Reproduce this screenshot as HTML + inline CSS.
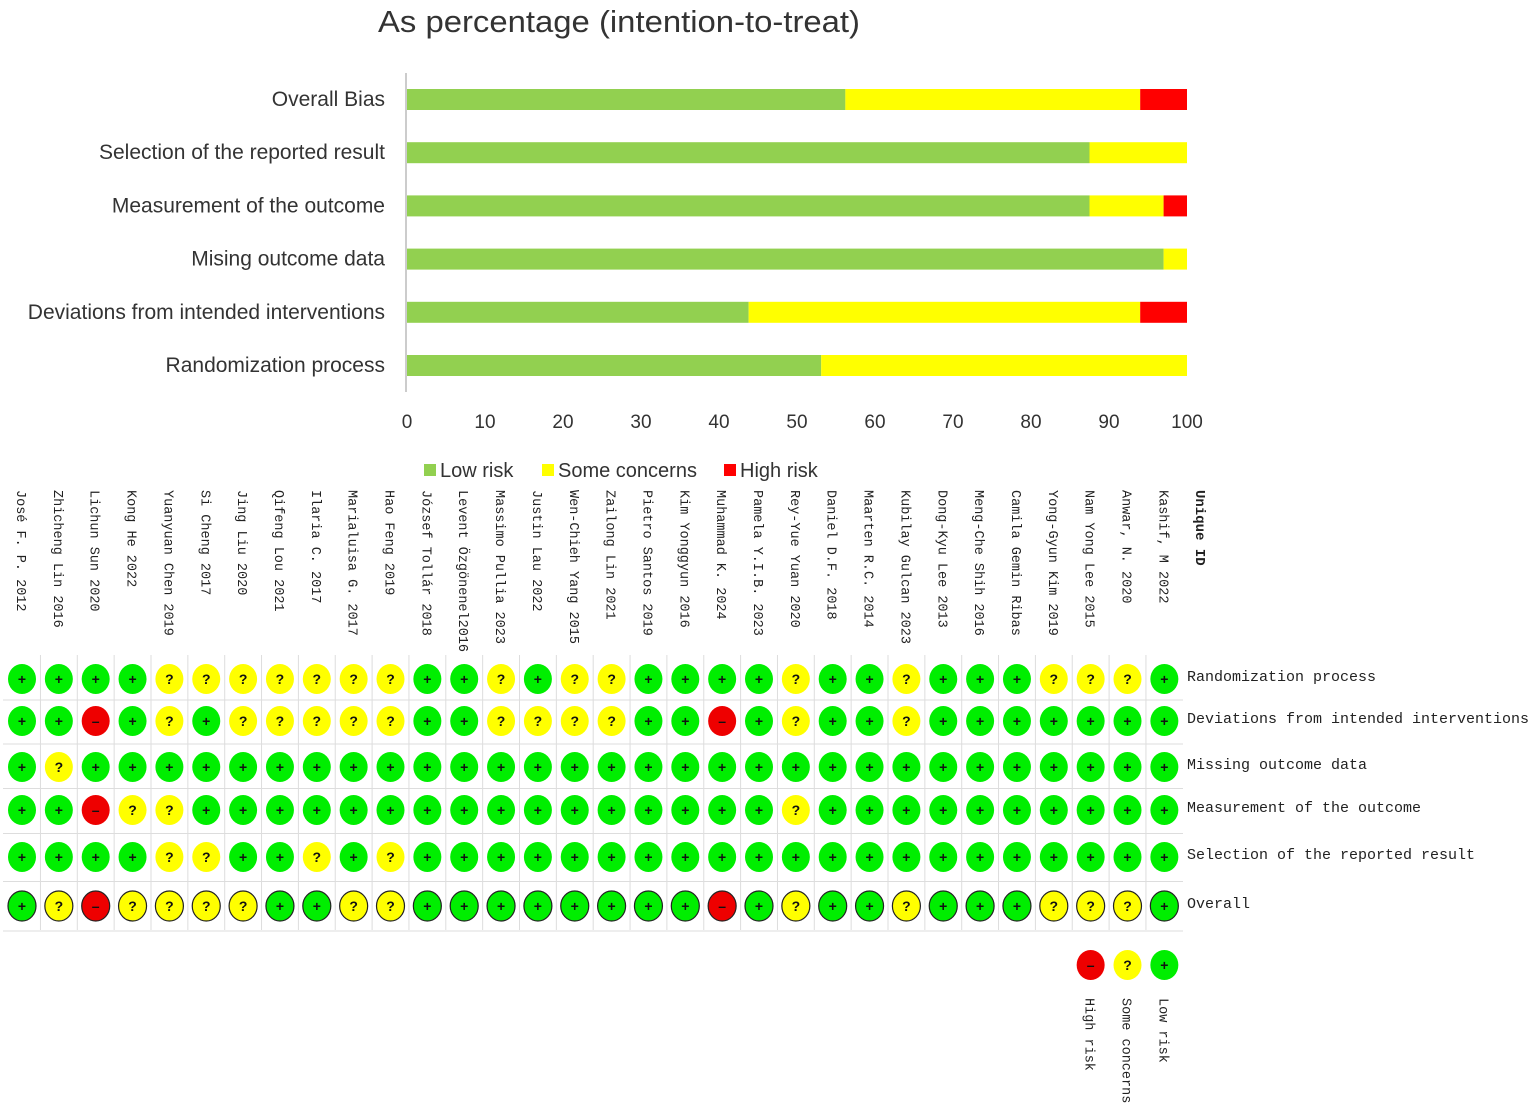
<!DOCTYPE html>
<html><head><meta charset="utf-8"><style>
body{margin:0;background:#fff;width:1535px;height:1109px;overflow:hidden}
svg{display:block}
</style></head><body>
<svg id="chart" width="1535" height="1109" xmlns="http://www.w3.org/2000/svg">
<text x="619" y="32" text-anchor="middle" font-family="Liberation Sans, sans-serif" font-size="31" fill="#333" textLength="482" lengthAdjust="spacingAndGlyphs">As percentage (intention-to-treat)</text>
<g id="bars"></g><g id="tl"></g>
</svg>
<script>
const domains = ["Overall Bias","Selection of the reported result","Measurement of the outcome","Mising outcome data","Deviations from intended interventions","Randomization process"];
const lowPct = [56.2, 87.5, 87.5, 97, 43.8, 53.1];
const somePct = [37.8, 12.5, 9.5, 3, 50.2, 46.9];
const highPct = [6, 0, 3, 0, 6, 0];
const xTicks = [0,10,20,30,40,50,60,70,80,90,100];
const studies = ["José F. P. 2012","Zhicheng Lin 2016","Lichun Sun 2020","Kong He 2022","Yuanyuan Chen 2019","Si Cheng 2017","Jing Liu 2020","Qifeng Lou 2021","Ilaria C. 2017","Marialuisa G. 2017","Hao Feng 2019","József Tollár 2018","Levent Özgönenel2016","Massimo Pullia 2023","Justin Lau 2022","Wen-Chieh Yang 2015","Zailong Lin 2021","Pietro Santos 2019","Kim Yonggyun 2016","Muhammad K. 2024","Pamela Y.I.B. 2023","Rey-Yue Yuan 2020","Daniel D.F. 2018","Maarten R.C. 2014","Kubilay Gulcan 2023","Dong-Kyu Lee 2013","Meng-Che Shih 2016","Camila Gemin Ribas","Yong-Gyun Kim 2019","Nam Yong Lee 2015","Anwar, N. 2020","Kashif, M 2022"];
const tlDomains = ["Randomization process","Deviations from intended interventions","Missing outcome data","Measurement of the outcome","Selection of the reported result","Overall"];
const judgements = [
"++++"+"???????"+"++"+"?"+"+"+"??"+"++++"+"?"+"++"+"?"+"+++"+"???"+"+",
"++-+"+"?"+"+"+"?????"+"++"+"????"+"++"+"-"+"+"+"?"+"++"+"?"+"+++++++",
"+?"+"++++++++++++++++++++++++++++++",
"++-??"+"++++++++++++++++"+"?"+"++++++++++",
"++++??++?+?"+"+++++++++++++++++++++",
"+?-????"+"++"+"??"+"++++++++"+"-"+"+"+"?"+"++"+"?"+"+++"+"???"+"+"
];
const NS="http://www.w3.org/2000/svg";
function mk(p,t,a){const e=document.createElementNS(NS,t);for(const k in a)e.setAttribute(k,a[k]);p.appendChild(e);return e;}
const bars=document.getElementById('bars');
const x0=407,x1=1187;const xs=v=>x0+(x1-x0)*v/100;
const ys=i=>99+i*53.2;
let ax=mk(bars,'line',{x1:406,y1:73,x2:406,y2:392,stroke:'#ccc','stroke-width':2});


const cols=['#92d050','#ffff00','#ff0000'];
domains.forEach((d,i)=>{
 const y=ys(i);
 let t=mk(bars,'text',{x:385,y:y+7,'text-anchor':'end','font-family':'Liberation Sans, sans-serif','font-size':21,fill:'#333'});t.textContent=d;
 
 
 let acc=0;[lowPct[i],somePct[i],highPct[i]].forEach((v,k)=>{
  if(v>0){let r=mk(bars,'rect',{x:xs(acc),y:y-10,width:xs(acc+v)-xs(acc),height:21,fill:cols[k]});
  
  }
  acc+=v;});
});
xTicks.forEach(v=>{let t=mk(bars,'text',{x:xs(v),y:428,'text-anchor':'middle','font-family':'Liberation Sans, sans-serif','font-size':19,fill:'#333'});t.textContent=v;
 
 });
[['Low risk',424,cols[0]],['Some concerns',542,cols[1]],['High risk',724,cols[2]]].forEach(([l,x,c])=>{
 let g=mk(bars,'g',{});
 mk(g,'rect',{x:x,y:464,width:12,height:12,fill:c});
 let t=mk(g,'text',{x:x+16,y:477,'font-family':'Liberation Sans, sans-serif','font-size':20,fill:'#333'});t.textContent=l;});
const tl=document.getElementById('tl');
const cx=j=>22+j*36.85;
const rowY=[679,721,767,810,857,906];
const sym={'+':['#00ee00','+'],'?':['#ffff00','?'],'-':['#ee0000','–']};
rowY.forEach((y,i)=>{let l=mk(tl,'line',{x1:3,x2:1183,y1:y+(i<5?(rowY[i+1]-y)/2:25),y2:y+(i<5?(rowY[i+1]-y)/2:25),stroke:'#ddd','stroke-width':1});
 });
studies.forEach((s,j)=>{
 if(j>0){let l=mk(tl,'line',{x1:cx(j)-18.4,x2:cx(j)-18.4,y1:655,y2:930,stroke:'#ddd','stroke-width':1});
 }
 let t=mk(tl,'text',{transform:`translate(${cx(j)-5},490) rotate(90)`,'font-family':'Liberation Mono, monospace','font-size':13.5,fill:'#222'});t.textContent=s;
 
});
let uid=mk(tl,'text',{transform:`translate(${cx(32)-5},490) rotate(90)`,'font-family':'Liberation Mono, monospace','font-size':14,'font-weight':'bold',fill:'#222'});uid.textContent='Unique ID';

judgements.forEach((row,i)=>{
 studies.forEach((s,j)=>{
  const c=row[j]||'+';const [f,g]=sym[c];
  let gg=mk(tl,'g',{});
  mk(gg,'ellipse',{cx:cx(j),cy:rowY[i],rx:14,ry:15,fill:f,stroke:i==5?'#222':'none','stroke-width':1.2});
  let t=mk(gg,'text',{x:cx(j),y:rowY[i]+5,'text-anchor':'middle','font-family':'Liberation Sans, sans-serif','font-size':14,'font-weight':'bold',fill:'#111'});t.textContent=g;
 });
 let t=mk(tl,'text',{x:1187,y:rowY[i]+2,'font-family':'Liberation Mono, monospace','font-size':15,fill:'#222'});t.textContent=tlDomains[i];
 
});
[['-','High risk',29],['?','Some concerns',30],['+','Low risk',31]].forEach(([c,l,j])=>{
 let g=mk(tl,'g',{});
 mk(g,'ellipse',{cx:cx(j),cy:965,rx:14,ry:15,fill:sym[c][0]});
 let s=mk(g,'text',{x:cx(j),y:970,'text-anchor':'middle','font-family':'Liberation Sans, sans-serif','font-size':14,'font-weight':'bold',fill:'#111'});s.textContent=sym[c][1];
 let t=mk(g,'text',{transform:`translate(${cx(j)-5},998) rotate(90)`,'font-family':'Liberation Mono, monospace','font-size':13.5,fill:'#222'});t.textContent=l;
});
</script>
</body></html>
